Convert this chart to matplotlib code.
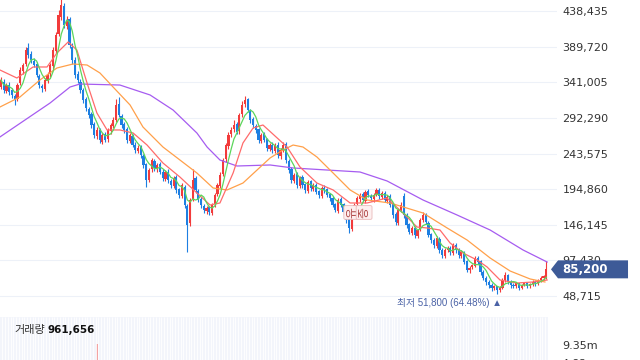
import numpy as np
import pandas as pd
import matplotlib
matplotlib.use("Agg")
import matplotlib.pyplot as plt
from matplotlib.patches import Polygon
from matplotlib.transforms import blended_transform_factory

plt.rcParams['font.family'] = ['DejaVu Sans', 'Noto Sans CJK KR']

# 일봉 시세 (천원 단위)
opens = [335, 342, 329, 338, 330, 322, 318, 340, 356, 366,
         388, 380, 370, 366, 350, 336, 332, 343, 352, 363,
         384, 407, 430, 445, 418, 428, 390, 372, 353, 342,
         330, 318, 305, 298, 284, 268, 276, 260, 270, 263,
         274, 281, 290, 312, 295, 284, 277, 261, 268, 256,
         247, 252, 240, 229, 208, 222, 233, 222, 229, 219,
         209, 219, 206, 199, 211, 195, 186, 198, 172, 148,
         182, 210, 192, 181, 172, 165, 170, 162, 174, 188,
         199, 216, 236, 254, 270, 277, 284, 274, 298, 312,
         318, 302, 291, 281, 277, 261, 270, 263, 250, 256,
         247, 256, 240, 249, 257, 233, 222, 206, 215, 199,
         211, 202, 193, 206, 195, 201, 192, 186, 197, 195,
         188, 183, 174, 165, 181, 174, 162, 154, 140, 160,
         174, 181, 188, 179, 192, 186, 181, 188, 194, 184,
         190, 179, 185, 174, 161, 149, 167, 186, 160, 147,
         135, 142, 131, 140, 153, 160, 149, 133, 126, 117,
         127, 112, 104, 112, 115, 108, 119, 112, 104, 108,
         96, 84, 88, 90, 101, 96, 82, 74, 68, 64,
         60, 62, 57, 60, 71, 77, 68, 64, 62, 66,
         60, 64, 66, 62, 65, 68, 66, 70, 73, 74]
highs = [348, 345, 340, 341, 333, 325, 340, 362, 368, 390,
         395, 384, 374, 369, 353, 339, 347, 355, 368, 390,
         410, 440, 460, 450, 432, 431, 395, 376, 357, 346,
         334, 321, 308, 301, 287, 280, 279, 272, 273, 279,
         286, 293, 318, 321, 298, 287, 280, 272, 271, 259,
         255, 255, 243, 231, 224, 238, 236, 231, 232, 222,
         221, 222, 209, 213, 214, 197, 203, 201, 175, 183,
         222, 213, 195, 184, 175, 172, 172, 176, 190, 204,
         218, 238, 258, 273, 280, 290, 287, 299, 315, 322,
         320, 305, 294, 284, 279, 272, 273, 265, 258, 259,
         258, 260, 251, 259, 260, 236, 225, 217, 218, 213,
         214, 204, 207, 208, 203, 203, 194, 199, 200, 197,
         190, 185, 176, 183, 184, 176, 164, 156, 162, 176,
         186, 190, 191, 194, 195, 188, 189, 196, 197, 192,
         192, 187, 188, 176, 163, 169, 178, 190, 162, 149,
         144, 144, 141, 155, 163, 162, 151, 135, 128, 131,
         129, 114, 114, 117, 117, 121, 121, 114, 111, 110,
         98, 90, 93, 104, 103, 98, 84, 76, 70, 66,
         64, 63, 62, 73, 81, 79, 70, 66, 68, 67,
         65, 68, 68, 67, 70, 70, 72, 76, 78, 96]
lows = [332, 327, 326, 324, 320, 310, 315, 337, 353, 363,
        375, 368, 362, 348, 334, 328, 329, 340, 349, 360,
        381, 404, 427, 415, 414, 388, 366, 347, 340, 326,
        313, 302, 292, 279, 265, 264, 258, 257, 259, 260,
        271, 278, 287, 293, 279, 272, 258, 258, 252, 245,
        244, 238, 224, 198, 205, 219, 220, 219, 215, 206,
        206, 204, 197, 196, 190, 183, 183, 169, 109, 144,
        179, 190, 177, 169, 162, 161, 160, 159, 171, 185,
        196, 213, 232, 250, 266, 273, 270, 271, 294, 308,
        300, 286, 279, 272, 258, 258, 259, 247, 247, 245,
        244, 237, 236, 246, 231, 217, 204, 203, 197, 196,
        197, 190, 190, 193, 192, 188, 183, 183, 190, 184,
        179, 170, 163, 162, 170, 160, 149, 135, 137, 157,
        171, 178, 177, 176, 184, 179, 178, 185, 182, 181,
        177, 176, 170, 156, 146, 146, 163, 156, 142, 133,
        132, 128, 128, 137, 150, 147, 129, 121, 114, 114,
        108, 101, 101, 109, 105, 105, 108, 101, 101, 92,
        81, 80, 85, 88, 92, 78, 70, 64, 60, 56,
        57, 51.8, 54, 58, 68, 65, 60, 59, 60, 57,
        58, 62, 59, 60, 63, 63, 64, 68, 71, 72]
closes = [344.3, 330.6, 337.4, 327.9, 323.8, 316.9, 337.4, 358.0, 364.8, 385.3,
          378.5, 371.7, 364.8, 351.1, 337.4, 333.3, 344.3, 351.1, 364.8, 385.3,
          405.9, 433.2, 446.9, 419.5, 426.4, 392.2, 371.7, 351.1, 344.3, 330.6,
          316.9, 306.0, 296.4, 282.7, 269.0, 275.9, 262.2, 269.0, 262.2, 275.9,
          282.7, 289.5, 310.1, 296.4, 282.7, 275.9, 262.2, 269.0, 255.3, 248.5,
          251.2, 241.7, 228.0, 207.4, 221.1, 234.8, 223.9, 228.0, 218.4, 210.2,
          218.4, 207.4, 200.6, 210.2, 193.8, 186.9, 200.6, 173.2, 145.9, 180.1,
          207.4, 193.8, 180.1, 173.2, 166.4, 169.1, 163.7, 173.2, 186.9, 200.6,
          214.3, 234.8, 255.3, 269.0, 275.9, 282.7, 273.1, 296.4, 310.1, 316.9,
          303.2, 289.5, 282.7, 275.9, 262.2, 269.0, 262.2, 251.2, 255.3, 248.5,
          255.3, 241.7, 248.5, 255.3, 234.8, 221.1, 207.4, 214.3, 200.6, 210.2,
          200.6, 193.8, 204.7, 196.5, 200.6, 191.0, 186.9, 196.5, 193.8, 186.9,
          182.8, 173.2, 166.4, 180.1, 173.2, 163.7, 152.7, 141.8, 159.6, 173.2,
          182.8, 186.9, 180.1, 191.0, 186.9, 182.8, 186.9, 193.8, 185.6, 189.7,
          180.1, 184.2, 173.2, 159.6, 150.0, 166.4, 173.2, 159.6, 145.9, 136.3,
          141.8, 132.2, 139.0, 152.7, 159.6, 150.0, 132.2, 125.3, 118.5, 128.1,
          111.7, 104.8, 111.7, 114.4, 108.9, 118.5, 111.7, 104.8, 108.9, 95.2,
          84.3, 87.0, 91.1, 100.7, 95.2, 81.6, 73.3, 67.9, 63.8, 59.7,
          62.4, 56.9, 59.7, 70.6, 77.5, 67.9, 63.8, 62.4, 66.5, 59.7,
          63.8, 66.5, 62.4, 65.1, 67.9, 66.5, 70.6, 73.3, 76.1, 85.2]

# 거래량 (백만주)
volumes = [2.1, 1.8, 1.6, 1.9, 1.7, 2.3, 2.8, 3.1, 2.6, 3.9,
           2.4, 2.0, 1.8, 2.2, 2.6, 1.9, 1.7, 2.1, 2.9, 3.6,
           4.2, 5.1, 4.8, 3.9, 2.7, 3.4, 2.9, 2.3, 2.0, 2.2,
           2.5, 2.1, 1.9, 2.4, 2.8, 9.5, 3.1, 2.2, 1.8, 2.0,
           1.9, 2.3, 3.8, 2.9, 2.1, 1.7, 1.9, 1.6, 1.8, 1.5,
           1.4, 1.7, 2.2, 3.0, 2.4, 2.1, 1.6, 1.5, 1.7, 1.6,
           1.4, 1.8, 1.7, 1.5, 2.0, 1.9, 2.3, 2.8, 4.9, 3.7,
           3.2, 2.4, 1.8, 1.6, 1.5, 1.3, 1.4, 1.5, 2.1, 2.6,
           3.0, 3.8, 4.4, 4.0, 3.3, 3.1, 2.5, 3.6, 4.1, 3.9,
           2.9, 2.2, 1.9, 1.7, 2.0, 1.6, 1.5, 1.8, 1.4, 1.3,
           1.4, 1.6, 1.3, 1.4, 1.8, 1.9, 2.1, 1.6, 1.7, 1.5,
           1.4, 1.3, 1.5, 1.2, 1.3, 1.4, 1.2, 1.3, 1.2, 1.1,
           1.2, 1.5, 1.6, 1.9, 1.4, 1.6, 1.9, 2.4, 2.2, 1.8,
           1.6, 1.4, 1.3, 1.4, 1.2, 1.1, 1.2, 1.3, 1.2, 1.1,
           1.2, 1.1, 1.4, 1.7, 1.8, 1.6, 1.5, 2.3, 1.9, 1.8,
           1.4, 1.5, 1.3, 1.6, 1.5, 1.4, 1.8, 1.6, 1.5, 1.4,
           1.7, 1.6, 1.3, 1.2, 1.1, 1.3, 1.2, 1.1, 1.0, 1.3,
           1.6, 1.4, 1.2, 1.7, 1.4, 1.6, 1.5, 1.3, 1.2, 1.1,
           1.0, 1.4, 1.1, 1.3, 1.5, 1.2, 1.0, 0.9, 1.0, 0.9,
           0.8, 0.9, 0.8, 0.9, 1.0, 0.8, 0.9, 1.0, 1.1, 0.961656]

# 이동평균선 (봉 위치, 천원)
ma20_x = [-0.4, 5.8, 11.7, 16.8, 20.4, 24.5, 27.7, 31.4, 35.0, 38.7,
          43.4, 48.2, 53.3, 59.1, 65.3, 71.5, 76.3, 79.9, 84.7, 88.3,
          92.0, 95.6, 104.4, 109.1, 115.3, 121.2, 127.4, 133.6, 140.9, 148.2,
          151.8, 155.5, 160.2, 163.9, 168.6, 173.7, 177.4, 182.1, 188.3, 194.2,
          199.3]
ma20_v = [358.0, 347.0, 362.1, 362.1, 381.2, 396.3, 385.3, 340.2, 299.1, 275.9,
          275.9, 271.8, 255.3, 230.7, 211.5, 189.7, 173.2, 176.0, 217.0, 258.1,
          278.6, 282.7, 252.6, 225.3, 203.3, 193.8, 176.0, 176.0, 182.8, 156.8,
          143.1, 141.8, 139.0, 121.2, 107.5, 98.0, 88.4, 70.6, 66.5, 67.9,
          70.6]
ma60_x = [-0.4, 6.9, 14.2, 20.4, 26.3, 31.4, 36.1, 40.9, 47.1, 51.8,
          59.1, 65.3, 71.5, 77.4, 82.5, 88.3, 98.2, 102.9, 106.6, 110.2,
          115.3, 121.2, 127.4, 133.6, 142.0, 154.0, 162.8, 170.1, 178.5, 185.8,
          193.1, 198.5]
ma60_v = [307.3, 321.0, 344.3, 360.7, 366.2, 364.8, 353.9, 334.7, 310.1, 280.0,
          252.6, 234.8, 217.0, 196.5, 193.8, 203.3, 237.6, 248.5, 255.3, 252.6,
          238.9, 217.0, 193.8, 180.1, 176.0, 162.3, 141.8, 125.3, 100.7, 82.9,
          72.0, 67.9]
ma120_x = [-0.4, 17.9, 25.2, 28.8, 43.4, 54.4, 62.8, 71.5, 75.2, 79.9,
           86.1, 98.2, 106.6, 131.0, 140.9, 154.0, 166.4, 178.5, 190.5, 199.3]
ma120_v = [266.3, 312.8, 334.7, 338.8, 337.4, 323.8, 303.2, 271.7, 252.6, 234.8,
           226.6, 228.0, 223.9, 218.4, 206.1, 180.1, 159.6, 139.0, 111.7, 95.2]

last_price = 85200
low_price = 51800
low_idx = 181

o = np.array(opens) * 1000
h = np.array(highs) * 1000
l = np.array(lows) * 1000
c = np.array(closes) * 1000
idx = np.arange(len(c))
ma5 = pd.Series(c).rolling(5, min_periods=1).mean()

UP = '#f23b3b'
DOWN = '#1d7fe2'
colors = np.where(c >= o, UP, DOWN)

fig = plt.figure(figsize=(6.4, 3.6), dpi=100)

# 가격 영역
ax = fig.add_axes([0, 50 / 360, 557 / 640, 310 / 360])
ax.set_xlim(-0.365, 202.9)
ax.set_ylim(29557, 453760)
ticks = [48715 * k for k in range(1, 10)]
ax.set_yticks(ticks)
ax.set_yticklabels([f"{t:,}" for t in ticks])
ax.yaxis.tick_right()
ax.tick_params(axis='y', length=0, pad=4, labelsize=8, labelcolor='#333333')
ax.set_xticks([])
for s in ax.spines.values():
    s.set_visible(False)
ax.grid(axis='y', color='#edf1f8', lw=0.8)
ax.set_axisbelow(True)

ax.vlines(idx, l, h, colors=colors, lw=0.8)
ax.bar(idx, np.maximum(np.abs(c - o), 1200), bottom=np.minimum(o, c),
       width=0.8, color=colors, lw=0)

ax.plot(ma120_x, np.array(ma120_v) * 1000, color='#a65cf0', lw=0.9)
ax.plot(ma60_x, np.array(ma60_v) * 1000, color='#ffa04a', lw=0.9)
ax.plot(ma20_x, np.array(ma20_v) * 1000, color='#ff6b6b', lw=0.9)
ax.plot(idx, ma5, color='#5cd65c', lw=0.9)

# 현재가 표시
trans = blended_transform_factory(ax.transAxes, ax.transData)
half = 12316
tag = Polygon([(0.9892, last_price), (1.0018, last_price + half), (1.1275, last_price + half),
               (1.1275, last_price - half), (1.0018, last_price - half)],
              closed=True, transform=trans, clip_on=False, fc='#3d5a97', ec='none', zorder=5)
ax.add_patch(tag)
ax.text(1.010, last_price, f"{last_price:,}", transform=trans, color='white',
        fontsize=8.5, fontweight='bold', va='center', ha='left', zorder=6)

# 최저가
ax.annotate(f"최저 {low_price:,} (64.48%) ▲", xy=(low_idx, low_price), xytext=(5, -9),
            textcoords='offset pixels', ha='right', va='center', fontsize=7,
            color='#4a62a6', family=['Liberation Sans', 'Noto Sans CJK KR'])

# 유상증자 표시
box = dict(boxstyle='round,pad=0.12', fc='#fdf0f0', ec='#e9b9b9', lw=0.6)
ax.text(128.0, 163000, "유", rotation=90, ha='center', va='center', fontsize=8.5,
        color='#b04848', bbox=box, zorder=6)
ax.text(132.5, 163000, "증", rotation=90, ha='center', va='center', fontsize=8.5,
        color='#b04848', bbox=box, zorder=6)

# 거래량 영역
axv = fig.add_axes([0, -21 / 360, 548 / 640, 64 / 360])
axv.set_xlim(-0.365, 199.6)
axv.set_ylim(0, 16.6e6)
axv.set_facecolor('#f3f5fb')
axv.vlines(idx + 0.5, 0, 16.6e6, color='white', lw=0.6)
vol_colors = np.where(c >= o, '#f3a3a3', '#9cc4f0')
axv.bar(idx, np.array(volumes) * 1e6, width=0.62, color=vol_colors, lw=0)
axv.set_yticks([4.675e6, 9.35e6])
axv.set_yticklabels(['4.68m', '9.35m'])
axv.yaxis.tick_right()
axv.tick_params(axis='y', length=0, pad=10, labelsize=8, labelcolor='#333333')
axv.set_xticks([])
for s in axv.spines.values():
    s.set_visible(False)

fig.text(14 / 640, 1 - 330 / 360, "거래량", fontsize=8, color='#333333', va='center')
fig.text(48 / 640, 1 - 330 / 360, f"{int(volumes[-1] * 1e6):,}", fontsize=7.5,
         fontweight='bold', color='#111111', va='center')

fig.savefig("out.png", dpi=100)
